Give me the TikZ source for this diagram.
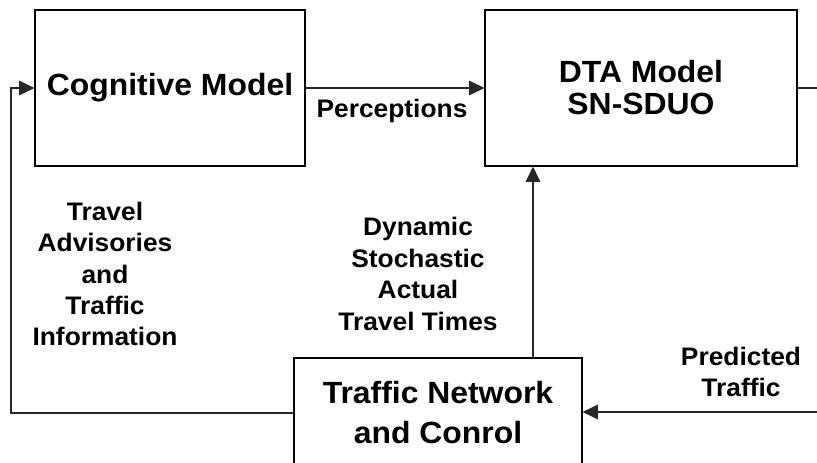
\documentclass[tikz,border=0pt]{standalone}
\usepackage{fontspec}
\setmainfont{Liberation Sans}[FakeStretch=1.04]
\usepackage{tikz}
\usetikzlibrary{positioning,arrows.meta}
\definecolor{colorline}{RGB}{40,40,40}

\begin{document}
\begin{tikzpicture}[
    x=0.75pt, y=-0.75pt,
    box/.style={draw=black,line width=0.9pt,fill=white,inner sep=0pt,
        align=center,font={\fontsize{23}{24}\bfseries\selectfont}},
    lbl/.style={align=center,inner sep=0pt,
        font={\fontsize{19}{23.6}\bfseries\selectfont}},
    link/.style={draw=colorline,line width=0.9pt},
    arr/.style={link,-{Triangle[length=11.5pt,width=11pt]}},
]
    \useasboundingbox (0,0) rectangle (817,463);

    % blocks
    \node[box,minimum width=202.5pt,minimum height=117pt] (cog) at (170,88) {Cognitive Model};
    \node[box,minimum width=234pt,minimum height=117pt] (dta) at (641,88) {DTA Model\\SN-SDUO};
    \node[box,minimum width=216pt,minimum height=82.5pt,
        font={\fontsize{23}{30}\bfseries\selectfont}] (net) at (438,413) {Traffic Network\\and Conrol};

    % labels
    \node[lbl] (perc) at (392,111) {Perceptions};
    \node[lbl] (adv) at (105,274) {Travel\\Advisories\\and\\Traffic\\Information};
    \node[lbl] (dyn) at (418,274) {Dynamic\\Stochastic\\Actual\\Travel Times};
    \node[lbl] (pred) at (741,372) {Predicted\\Traffic};

    % helper points
    \coordinate (up) at (533,0);
    \coordinate (lft) at (11,0);
    \coordinate (outR) at (817,88);
    \coordinate (inR) at (817,412);

    % connectors
    \draw[arr] (cog.east) -- (dta.west);
    \draw[arr] (net.north -| up) -- (dta.south -| up);
    \draw[link] (dta.east) -- (outR);
    \draw[arr] (inR) -- (inR -| net.east);
    \draw[arr] (net.west) -- (net.west -| lft) |- (cog.west);

\end{tikzpicture}
\end{document}
